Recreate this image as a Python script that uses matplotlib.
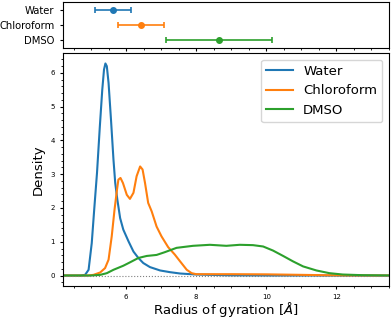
import numpy as np
import matplotlib
matplotlib.use("Agg")
import matplotlib.pyplot as plt
from matplotlib.ticker import MultipleLocator

# Werte
solvents = ["Water", "Chloroform", "DMSO"]
colors = ["#1f77b4", "#ff7f0e", "#2ca02c"]

rg_mean = [5.62, 6.43, 8.65]
rg_low = [5.10, 5.76, 7.15]
rg_high = [6.14, 7.09, 10.15]

water_x = [4.2, 4.7, 4.83, 4.93, 5.02, 5.09, 5.17, 5.25, 5.32, 5.37, 5.41, 5.45, 5.50, 5.57,
           5.64, 5.69, 5.75, 5.83, 5.92, 6.07, 6.21, 6.35, 6.49, 6.68, 6.97, 7.25, 7.54, 8.0,
           9.0, 10.0, 13.5]
water_y = [0.0, 0.0, 0.02, 0.17, 0.96, 1.95, 3.04, 4.4, 5.5, 6.1, 6.28, 6.2, 5.7, 4.6,
           3.43, 2.74, 2.25, 1.70, 1.36, 1.01, 0.71, 0.52, 0.37, 0.25, 0.15, 0.10, 0.06, 0.03,
           0.005, 0.0, 0.0]

chloro_x = [4.2, 4.9, 5.07, 5.26, 5.40, 5.50, 5.59, 5.67, 5.74, 5.78, 5.84, 5.91, 6.02, 6.11,
            6.21, 6.30, 6.40, 6.47, 6.54, 6.63, 6.73, 6.87, 7.01, 7.20, 7.39, 7.54, 7.73, 7.87,
            8.0, 9.0, 10.0, 11.0, 12.0, 12.4, 13.5]
chloro_y = [0.0, 0.0, 0.02, 0.09, 0.22, 0.47, 1.16, 1.95, 2.54, 2.84, 2.89, 2.74, 2.39, 2.27,
            2.45, 2.94, 3.23, 3.14, 2.74, 2.15, 1.90, 1.45, 1.16, 0.84, 0.62, 0.42, 0.17, 0.07,
            0.04, 0.04, 0.035, 0.02, 0.005, 0.0, 0.0]

dmso_x = [4.2, 5.0, 5.26, 5.45, 5.64, 5.92, 6.11, 6.35, 6.59, 6.87, 7.10, 7.44, 7.91, 8.39,
          8.86, 9.24, 9.62, 9.91, 10.19, 10.48, 10.76, 11.05, 11.43, 11.80, 12.18, 12.75, 13.5]
dmso_y = [0.0, 0.0, 0.02, 0.07, 0.17, 0.29, 0.39, 0.52, 0.58, 0.61, 0.69, 0.82, 0.88, 0.91,
          0.88, 0.91, 0.90, 0.86, 0.74, 0.58, 0.42, 0.27, 0.15, 0.07, 0.03, 0.01, 0.0]

curves = [(water_x, water_y), (chloro_x, chloro_y), (dmso_x, dmso_y)]

fig = plt.figure(figsize=(3.92, 3.18), dpi=100)
ax_top = fig.add_axes([63/392, 1-48/318, 326/392, 46/318])
ax = fig.add_axes([63/392, 1-286/318, 326/392, 233/318], sharex=ax_top)

# oben: Mittelwert mit Bereich
for i, name in enumerate(solvents):
    m = rg_mean[i]
    ax_top.errorbar(m, i, xerr=[[m - rg_low[i]], [rg_high[i] - m]], fmt="o", color=colors[i],
                    ms=4, lw=1.2, capsize=2.5, capthick=1.2)
ax_top.set_yticks(range(len(solvents)))
ax_top.set_yticklabels(solvents, fontsize=7.2)
ax_top.set_ylim(2.5, -0.5)
ax_top.tick_params(axis="x", labelbottom=False, labelsize=5, length=2.5)
ax_top.tick_params(axis="y", length=2.5)
ax_top.xaxis.set_minor_locator(MultipleLocator(0.5))
ax_top.tick_params(which="minor", length=1.5)

# unten: Dichteverteilung
for (x, y), name, c in zip(curves, solvents, colors):
    ax.plot(x, y, color=c, lw=1.5, label=name)
ax.axhline(0, color="gray", ls=":", lw=0.8)
ax.set_xlim(4.2, 13.5)
ax.set_ylim(-0.31, 6.59)
ax.set_xticks([6, 8, 10, 12])
ax.set_yticks(range(7))
ax.xaxis.set_minor_locator(MultipleLocator(0.5))
ax.yaxis.set_minor_locator(MultipleLocator(0.2))
ax.tick_params(labelsize=5, length=2.5)
ax.tick_params(which="minor", length=1.5)
ax.set_xlabel("Radius of gyration [$\\AA$]", fontsize=9.5, labelpad=0)
ax.set_ylabel("Density", fontsize=9.5, labelpad=4)
ax.legend(loc="upper right", fontsize=9.5)

fig.savefig("out.png", dpi=100)
